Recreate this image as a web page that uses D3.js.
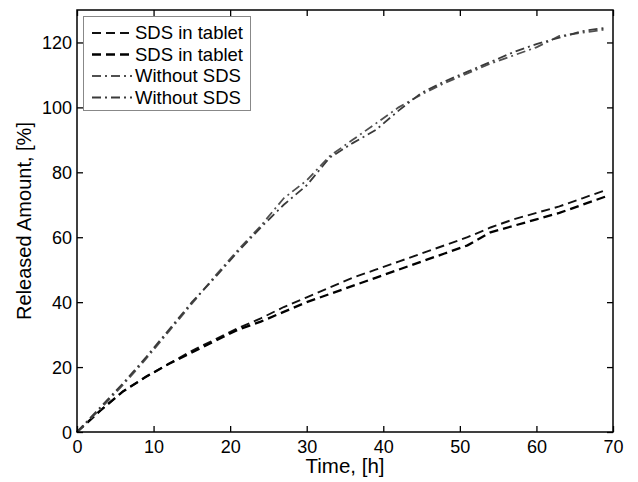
<!DOCTYPE html>
<html><head><meta charset="utf-8">
<script src="https://cdn.jsdelivr.net/npm/d3@7"></script>
<style>
body{margin:0;background:#fff;}
text{font-family:"Liberation Sans",Arial,Helvetica,sans-serif;}
</style></head>
<body><svg id="c" width="638" height="482"></svg>
<script>
const times = [0,3,6,9,12,15,18,21,24,27,30,33,36,39,42,45,48,51,54,57,60,63,66,69];
const sdsA  = [0,6.5,12.5,17,21,25,28.5,32,35,38.5,41.5,44.5,47.5,50,52.5,55,57.5,60,63,65.5,67.5,69.5,72,74.5];
const sdsB  = [0,6.5,12.5,17,21,24.5,28,31.5,34,37,40,42.5,45,47.5,50,52.5,55,57.5,61.5,63.5,65.5,67.5,70,72.5];
const noA   = [0,7,14.5,22.5,31,39.5,48,56,63.5,72,77.5,85,90,95,100,104,107.5,110.5,113.5,116,118.5,122,123,124];
const noB   = [0,7.5,15,23,31.5,40,47.5,55.5,63,70,76,84.5,89,93,99,104.5,108,111,114,117,119.5,121.5,123.5,124.5];
const xTicks = [0,10,20,30,40,50,60,70];
const yTicks = [0,20,40,60,80,100,120];
const seriesNames = ["SDS in tablet","SDS in tablet","Without SDS","Without SDS"];

const series = [
  {name:seriesNames[0], vals:sdsA, color:"#111", w:1.9, dash:"9,5"},
  {name:seriesNames[1], vals:sdsB, color:"#000", w:2.3, dash:"9,5"},
  {name:seriesNames[2], vals:noA, color:"#505050", w:1.8, dash:"9,4,2,4"},
  {name:seriesNames[3], vals:noB, color:"#3a3a3a", w:1.8, dash:"9,4,2,4"}
];

const svg = d3.select("#c");
const L=77, R=613, T=10, B=432;
const x = d3.scaleLinear().domain([0,70]).range([L,R]);
const y = d3.scaleLinear().domain([0,130]).range([B,T]);

const line = d3.line().x((d,i)=>x(times[i])).y(d=>y(d));
series.forEach(s=>{
  svg.append("path").attr("d",line(s.vals)).attr("fill","none")
    .attr("stroke",s.color).attr("stroke-width",s.w).attr("stroke-dasharray",s.dash);
});

const fs = "18px";
const xb = svg.append("g").attr("transform",`translate(0,${B})`)
  .call(d3.axisBottom(x).tickValues(xTicks).tickSize(-6).tickPadding(8).tickSizeOuter(0));
const xt = svg.append("g").attr("transform",`translate(0,${T})`)
  .call(d3.axisTop(x).tickValues(xTicks).tickSize(-6).tickFormat("").tickSizeOuter(0));
const yl = svg.append("g").attr("transform",`translate(${L},0)`)
  .call(d3.axisLeft(y).tickValues(yTicks).tickSize(-6).tickPadding(5).tickSizeOuter(0));
const yr = svg.append("g").attr("transform",`translate(${R},0)`)
  .call(d3.axisRight(y).tickValues(yTicks).tickSize(-6).tickFormat("").tickSizeOuter(0));
[xb,xt,yl,yr].forEach(g=>{
  g.selectAll(".domain").remove();
  g.selectAll("line").attr("stroke","#000").attr("stroke-width",1.3);
  g.selectAll("text").attr("font-size",fs).attr("fill","#000")
   .style("font-family","'Liberation Sans',Arial,sans-serif");
});
yl.selectAll("text").attr("dy","0.35em");
svg.append("rect").attr("x",L).attr("y",T).attr("width",R-L).attr("height",B-T)
  .attr("fill","none").attr("stroke","#000").attr("stroke-width",1.5);

svg.append("text").attr("x",(L+R)/2).attr("y",473).attr("text-anchor","middle")
  .attr("font-size","20.5px").text("Time, [h]");
svg.append("text").attr("transform",`translate(31,${(T+B)/2}) rotate(-90)`)
  .attr("text-anchor","middle").attr("font-size","20px").text("Released Amount, [%]");

const lg = svg.append("g");
lg.append("rect").attr("x",83.5).attr("y",16.5).attr("width",167).attr("height",94)
  .attr("fill","#fff").attr("stroke","#888").attr("stroke-width",1);
series.forEach((s,i)=>{
  const yy = 33 + i*21.5;
  lg.append("line").attr("x1",92).attr("x2",132).attr("y1",yy).attr("y2",yy)
    .attr("stroke",s.color).attr("stroke-width",s.w).attr("stroke-dasharray",s.dash);
  lg.append("text").attr("x",135).attr("y",yy).attr("dy","0.35em")
    .attr("font-size","18.5px").text(s.name);
});
</script></body></html>
